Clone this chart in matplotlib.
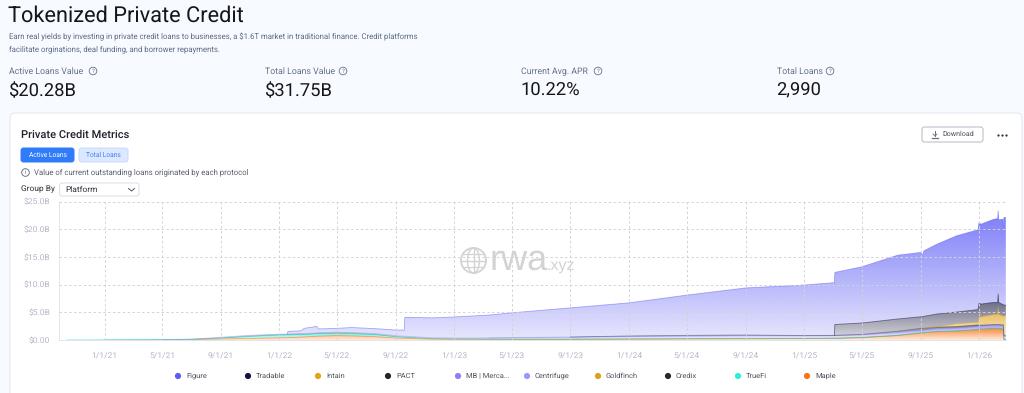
import matplotlib
matplotlib.use("Agg")
import matplotlib.pyplot as plt
import matplotlib.dates as mdates
from matplotlib.patches import FancyBboxPatch, Circle, Ellipse
from datetime import date
import numpy as np

plt.rcParams["font.family"] = ["Roboto", "DejaVu Sans"]
plt.rcParams["text.hinting"] = "no_hinting"
plt.rcParams["text.hinting_factor"] = 8

dates = [
    "2020-10-15", "2021-01-01", "2021-05-01", "2021-07-01", "2021-09-01", "2021-11-01", "2022-01-01", "2022-01-18",
    "2022-01-19", "2022-02-15", "2022-02-22", "2022-03-20", "2022-03-24", "2022-05-01", "2022-06-01", "2022-07-20",
    "2022-09-01", "2022-09-19", "2022-09-20", "2022-11-15", "2023-01-01", "2023-03-15", "2023-05-01", "2023-09-01",
    "2024-01-01", "2024-05-01", "2024-09-01", "2025-01-01", "2025-03-05", "2025-03-06", "2025-05-01", "2025-07-15",
    "2025-09-01", "2025-09-05", "2025-09-08", "2025-10-05", "2025-11-15", "2025-12-30", "2026-01-01", "2026-01-05", "2026-02-01",
    "2026-02-09", "2026-02-10", "2026-02-11", "2026-02-20", "2026-02-21", "2026-02-22", "2026-02-26",
]

# $B per platform, stack order is bottom to top
maple = [0, 0, 0, .04, .2, .28, .4, .43, .43, .53, .55, .67, .7, .8, .75, .6, .35, .3, .3, .16, .15, .13, .12, .12,
         .15, .2, .22, .25, .28, .28, .42, .8, 1.25, 1.25, 1.3, 1.5, 1.6, 1.85, 2.0, 1.95, 2.05, 2.05, 2.05, 2.05, 2.0, 2.0, .1, .1]
truefi = [0, .03, .07, .08, .15, .37, .5, .5, .5, .47, .45, .45, .45, .43, .4, .37, .24, .2, .2, .07, .03, .03, .02, .02,
          .02, .02, .02, .02, .02, .02, .02, .02, .02, .02, .02, .02, .02, .02, .02, .02, .02, .02, .02, .02, .02, .02, .02, .02]
credix = [0, 0, .01, .02, .03, .05, .05, .05, .05, .05, .05, .05, .05, .04, .04, .04, .04, .03, .03, .02, .02, .02, .02, .02,
          .02, .02, .02, .02, .02, .02, .02, .02, .02, .02, .02, .02, .02, .02, .02, .02, .02, .02, .02, .02, .02, .02, .02, .02]
goldfinch = [0, 0, 0, 0, .02, .05, .05, .05, .05, .06, .06, .06, .06, .07, .08, .08, .08, .08, .08, .06, .06, .05, .05, .05,
             .05, .05, .05, .05, .05, .05, .05, .05, .05, .05, .05, .05, .05, .05, .05, .05, .05, .05, .05, .05, .05, .05, .05, .05]
centrifuge = [0, 0, 0, .01, .1, .1, .05, .05, .05, .05, .05, .05, .05, .06, .08, .08, .08, .08, .08, .1, .1, .15, .2, .3,
              .35, .4, .45, .4, .4, .4, .4, .4, .3, .3, .3, .35, .35, .4, .4, .4, .4, .4, .4, .4, .4, .4, .4, .4]
mb_mercado = [0, 0, 0, 0, 0, 0, 0, 0, 0, 0, 0, 0, 0, 0, 0, 0, 0, 0, 0, 0, 0, 0, .02, .02,
              .05, .05, .05, .05, .05, .05, .05, .1, .1, .1, .1, .1, .1, .1, .1, .1, .1, .1, .1, .1, .1, .1, .1, .1]
pact = [0, 0, 0, 0, 0, 0, 0, 0, 0, 0, 0, 0, 0, 0, 0, 0, 0, 0, 0, 0, 0, 0, 0, 0,
        .1, .1, .1, .02, .02, .02, .05, .2, .35, .35, .33, .3, .3, .3, .1, .15, .15, .15, .15, .15, .15, .15, .15, .15]
intain = [0, 0, 0, 0, 0, 0, 0, 0, 0, 0, 0, 0, 0, 0, 0, 0, 0, 0, 0, 0, 0, 0, 0, 0,
          0, 0, 0, 0, 0, 0, 0, 0, 0, 0, 0, .05, .5, .45, 1.5, 1.5, 1.8, 1.8, 3.2, 1.8, 1.6, 1.6, 3.5, 3.5]
tradable = [0, 0, 0, 0, 0, 0, 0, 0, 0, 0, 0, 0, 0, 0, 0, 0, 0, 0, 0, 0, 0, 0, 0, 0,
            0, 0, 0, 0, 0, 1.96, 2.05, 2.2, 2.1, 2.1, 2.15, 2.3, 2.1, 2.3, 2.4, 2.3, 2.2, 2.2, 2.3, 2.2, 2.05, 2.05, 1.95, 1.95]
figure_vals = [0, 0, 0, 0, 0, 0, 0, 0, .47, .49, .94, 1.17, .69, .7, .9, .88, 1.01, 1.11, 3.41, 3.59, 3.79, 4.12, 4.47, 5.27,
               5.96, 7.26, 8.49, 9.11, 9.51, 9.4, 10.14, 11.51, 11.61, 11.11, 11.83, 12.6, 13.76, 14.41, 14.61, 14.41, 15.01, 15.11, 15.01, 14.91, 15.41, 13.81, 15.81, 15.81]

stack_names = ["Maple", "TrueFi", "Credix", "Goldfinch", "Centrifuge", "MB | Merca...", "PACT", "Intain", "Tradable", "Figure"]
stack_values = [maple, truefi, credix, goldfinch, centrifuge, mb_mercado, pact, intain, tradable, figure_vals]
stack_colors = ["#f97316", "#2ceedd", "#2a2a2e", "#dba11f", "#9a97fb", "#8f80f5", "#26262c", "#e0a31e", "#14143c", "#5b5bf6"]
edge_alpha = [0.6, 0.7, 0.15, 0.15, 0.5, 0.4, 0.4, 0.5, 0.55, 0.5]
fade_top = [0.85, 1.0, 0.6, 0.6, 0.85, 0.85, 0.65, 0.85, 0.72, 0.8]

legend_order = ["Figure", "Tradable", "Intain", "PACT", "MB | Merca...", "Centrifuge", "Goldfinch", "Credix", "TrueFi", "Maple"]
legend_x = [178, 248, 318, 388, 458, 527, 598, 668, 738, 807]

y_ticks = [0, 5, 10, 15, 20, 25]
y_labels = ["$0.00", "$5.0B", "$10.0B", "$15.0B", "$20.0B", "$25.0B"]
x_tick_dates = ["2021-01-01", "2021-05-01", "2021-09-01", "2022-01-01", "2022-05-01", "2022-09-01", "2023-01-01", "2023-05-01",
                "2023-09-01", "2024-01-01", "2024-05-01", "2024-09-01", "2025-01-01", "2025-05-01", "2025-09-01", "2026-01-01"]
x_tick_labels = ["1/1/21", "5/1/21", "9/1/21", "1/1/22", "5/1/22", "9/1/22", "1/1/23", "5/1/23",
                 "9/1/23", "1/1/24", "5/1/24", "9/1/24", "1/1/25", "5/1/25", "9/1/25", "1/1/26"]

stat_names = ["Active Loans Value", "Total Loans Value", "Current Avg. APR", "Total Loans"]
stat_values = ["$20.28B", "$31.75B", "10.22%", "2,990"]
stat_x = [9, 265, 521, 777]
stat_help_x = [93, 343, 598, 830]

W, H = 1024, 393
BG = "#f7faff"
fig = plt.figure(figsize=(W / 100, H / 100), dpi=100, facecolor=BG)

# page layer in pixel coords
ui = fig.add_axes([0, 0, 1, 1], zorder=0)
ui.set_xlim(0, W)
ui.set_ylim(H, 0)
ui.axis("off")


def txt(x, y, s, size, color="#1a1a22", **kw):
    kw.setdefault("va", "center")
    ui.text(x, y, s, fontsize=size, color=color, **kw)


def box(x0, y0, x1, y1, face, edge, r=3, lw=0.7):
    ui.add_patch(FancyBboxPatch((x0 + r, y0 + r), x1 - x0 - 2 * r, y1 - y0 - 2 * r,
                                boxstyle=f"round,pad={r}", fc=face, ec=edge, lw=lw))


txt(8, 16, "Tokenized Private Credit", 15.7, "#15151c")
txt(9, 37, "Earn real yields by investing in private credit loans to businesses, a $1.6T market in traditional finance. Credit platforms",
    5.6, "#5d6b85")
txt(9, 49.5, "facilitate orginations, deal funding, and borrower repayments.", 5.6, "#5d6b85")

for x, name, val, hx in zip(stat_x, stat_names, stat_values, stat_help_x):
    txt(x, 71.5, name, 6.3, "#66728a")
    txt(x - 1, 91, val, 13.2, "#15151c")
    ui.add_patch(Circle((hx, 71), 3.8, fc="none", ec="#66728a", lw=0.6))
    txt(hx, 71, "?", 4.2, "#66728a", ha="center")

box(10, 113, 1022, 420, "white", "#e3e7f0", r=5)
txt(21, 135, "Private Credit Metrics", 8, "#20202a", fontweight="medium")
box(21, 148, 74, 162, "#2f7bfa", "#2f7bfa", r=2.5)
txt(47.5, 155, "Active Loans", 4.8, "white", ha="center")
box(79, 148, 128, 162, "#dbe8ff", "#c8dafc", r=2.5)
txt(103.5, 155, "Total Loans", 4.8, "#3f82f7", ha="center")
ui.add_patch(Circle((25.5, 172.5), 3.8, fc="none", ec="#5a6070", lw=0.6))
txt(25.5, 172.5, "i", 4.2, "#5a6070", ha="center")
txt(34, 172.5, "Value of current outstanding loans originated by each protocol", 5.6, "#5a6070")
txt(21, 189.5, "Group By", 6, "#303038")
box(59.5, 183, 139, 196, "white", "#d8dce6", r=2.5)
txt(65, 189.5, "Platform", 6, "#303038")
ui.plot([128.5, 131.5, 134.5], [188.5, 191, 188.5], color="#505060", lw=0.7)

box(922, 127, 983, 142, "white", "#b4b8c2", r=2.5, lw=0.7)
txt(942.5, 134.5, "Download", 5.1, "#4a4f5c")
ui.plot([935, 935], [131, 135.5], color="#6a6f7c", lw=0.7)
ui.plot([932, 938], [137.5, 137.5], color="#6a6f7c", lw=0.9)
ui.plot([933, 935, 937], [134, 136, 134], color="#6a6f7c", lw=0.6)
ui.scatter([998, 1002, 1006], [135, 135, 135], s=2.6, color="#30303a", lw=0)

for x, name in zip(legend_x, legend_order):
    color = stack_colors[stack_names.index(name)]
    ui.add_patch(Circle((x, 376), 3.1, fc=color, ec="none"))
    txt(x + 8, 376, name, 5.4, "#50505c")

# chart layer
x_left = 59
x_right = 1006
y_top = 201.5
y_bottom = 340
px_per_day = (979 - 104.5) / (date(2026, 1, 1) - date(2021, 1, 1)).days
d_jan21 = mdates.date2num(date(2021, 1, 1))
ax = fig.add_axes([x_left / W, 1 - y_bottom / H, (x_right - x_left) / W, (y_bottom - y_top) / H], zorder=1)
ax.patch.set_alpha(0)

x = mdates.date2num(np.array(dates, dtype="datetime64[D]"))
base = np.zeros(len(x))
for name, vals, color, e_alpha, f_top in zip(stack_names, stack_values, stack_colors, edge_alpha, fade_top):
    vals = np.array(vals)
    top = base + vals
    hi = top.max()
    # vertical fade from the series peak down to zero, clipped to the band
    rgb = matplotlib.colors.to_rgb(color)
    ramp = np.linspace(f_top, 0.15, 64)
    grad = np.zeros((64, 1, 4))
    grad[:, 0, :3] = rgb
    grad[:, 0, 3] = ramp
    band = ax.fill_between(x, base, top, color="none", lw=0)
    im = ax.imshow(grad, extent=[x[0], x[-1], 0, hi], aspect="auto", origin="upper", zorder=1, interpolation="bilinear")
    im.set_clip_path(band.get_paths()[0], band.get_transform())
    shown = vals > 0
    edge = np.ma.masked_where(~(shown | np.r_[shown[1:], False]), top)
    ax.plot(x, edge, color=color, lw=0.6, alpha=e_alpha, zorder=1.5)
    base = top

ax.set_xlim(d_jan21 - (104.5 - x_left) / px_per_day, d_jan21 + (x_right - 104.5) / px_per_day)
ax.set_ylim(0, 25)
ax.set_yticks(y_ticks, y_labels)
ax.set_xticks(mdates.date2num(np.array(x_tick_dates, dtype="datetime64[D]")), x_tick_labels)
ax.grid(True, color="#d2d3d8", lw=0.7, ls=(0, (2.5, 2.5)))
ax.set_axisbelow(False)
ax.tick_params(length=0, labelsize=6.1, labelcolor="#b3b8c9")
ax.tick_params(axis="x", pad=9)
ax.tick_params(axis="y", pad=6.5)
for side in ["top", "right"]:
    ax.spines[side].set_visible(False)
for side in ["left", "bottom"]:
    ax.spines[side].set_color("#e2e4ea")
    ax.spines[side].set_linewidth(0.7)

# watermark
wm = fig.add_axes([0, 0, 1, 1], zorder=2)
wm.set_xlim(0, W)
wm.set_ylim(H, 0)
wm.axis("off")
wm.patch.set_alpha(0)
wm_c = "#d3d3d6"
wm.add_patch(Circle((473.5, 260.5), 12.5, fc="none", ec=wm_c, lw=1.3))
wm.add_patch(Ellipse((473.5, 260.5), 12, 25, fc="none", ec=wm_c, lw=1))
wm.plot([473.5, 473.5], [248, 273], color=wm_c, lw=1)
wm.plot([461, 486], [260.5, 260.5], color=wm_c, lw=1)
wm.plot([463, 484], [254, 254], color=wm_c, lw=0.9)
wm.plot([463, 484], [267, 267], color=wm_c, lw=0.9)
wm.text(490, 270, "rwa", fontsize=26, color=wm_c, family="Liberation Sans", va="baseline")
wm.text(547, 270, ".xyz", fontsize=11.5, color=wm_c, family="Liberation Sans", va="baseline")

fig.savefig("out.png", dpi=100, facecolor=BG)
